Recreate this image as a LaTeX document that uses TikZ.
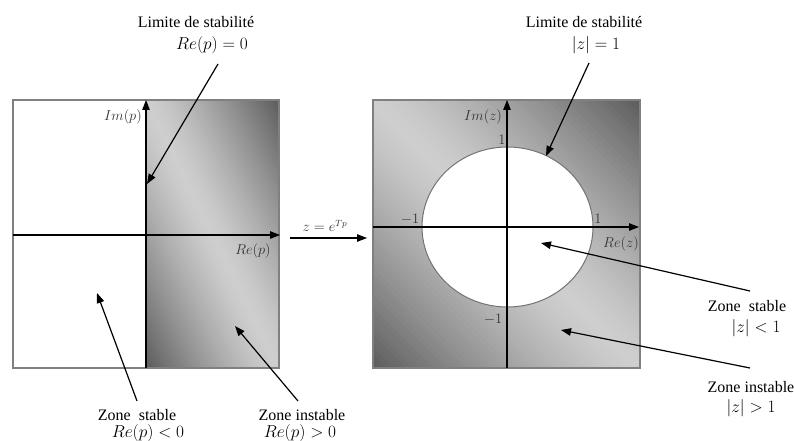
\documentclass[tikz,border=0pt]{standalone}
\usepackage{fontspec}
\setmainfont{Liberation Serif}
\usetikzlibrary{arrows.meta}
\newcommand\gradpanel[4]{% centre x, centre y, half width, half height
  \begin{scope}
  \clip ({#1-#3},{#2-#4}) rectangle ({#1+#3},{#2+#4});
  \foreach \i in {0,...,79}{
    \pgfmathsetmacro\sa{-2+\i*0.05}
    \pgfmathsetmacro\sb{\sa+0.062}
    \pgfmathsetmacro\ff{abs(\sa+0.025)/2}
    \pgfmathsetmacro\gv{0.81-0.45*\ff^1.3}
    \definecolor{bandc}{gray}{\gv}
    \fill[bandc] ({#1+#3*(\sa-1.5)},{#2-1.5*#4}) -- ({#1+#3*(\sa+1.5)},{#2+1.5*#4})
      -- ({#1+#3*(\sb+1.5)},{#2+1.5*#4}) -- ({#1+#3*(\sb-1.5)},{#2-1.5*#4}) -- cycle;
  }
  \end{scope}}
\begin{document}
\begin{tikzpicture}[x=1pt,y=-1pt,
  lbl/.style={font=\fontsize{16}{19}\selectfont, inner sep=0pt, align=center},
  axl/.style={font=\fontsize{13.5}{16}\selectfont, inner sep=0pt, text=black!80},
  frame/.style={draw=black!50, line width=1.3pt},
  axis/.style={draw=black, line width=1.2pt, -{Triangle[length=10pt,width=7.5pt]}},
  pointer/.style={draw=black, line width=1.2pt, -{Triangle[length=10pt,width=7.5pt]}}
]
\useasboundingbox (0,0) rectangle (794,441);
% ---------- left panel ----------
\gradpanel{212.5}{234}{66.5}{134}
\draw[frame] (13,100) rectangle (279,368);
\coordinate (lytop) at (146,100);
\coordinate (lybot) at (146,368);
\coordinate (lxl) at (13,235);
\coordinate (lxr) at (280,235);
\draw[axis] (lybot) -- (lytop);
\draw[axis] (lxl) -- (lxr);
\node[axl, anchor=east] (imp) at (142,117) {$Im(p)$};
\node[axl] (rep) at (253,251) {$Re(p)$};
% ---------- right panel ----------
\gradpanel{506.5}{234}{133.5}{134}
\draw[frame] (373,100) rectangle (640,368);
\draw[draw=black!55, line width=1pt, fill=white] (507.5,227) ellipse [x radius=85.5, y radius=80];
\coordinate (rytop) at (507,100);
\coordinate (rybot) at (507,368);
\coordinate (rxl) at (373,227);
\coordinate (rxr) at (639,227);
\draw[axis] (rybot) -- (rytop);
\draw[axis] (rxl) -- (rxr);
\node[axl] (imz) at (483,117) {$Im(z)$};
\node[axl] (one) at (502,140) {$1$};
\node[axl] (mone) at (410,219) {$-1$};
\node[axl] (onex) at (598,219) {$1$};
\node[axl] (monev) at (493,319) {$-1$};
\node[axl] (rez) at (621,244) {$Re(z)$};
% ---------- transform arrow ----------
\coordinate (ta) at (290,238);
\coordinate (tb) at (367,238);
\draw[pointer] (ta) -- (tb);
\node[axl] (tf) at (325,226) {$z = e^{Tp}$};
% ---------- labels ----------
\node[lbl] (lim1) at (196,22) {Limite de stabilité};
\node[lbl] (lim1m) at (212,45) {$Re(p) = 0$};
\coordinate (lim1s) at (218,64);
\coordinate (lim1e) at (147,184);
\draw[pointer] (lim1s) -- (lim1e);

\node[lbl] (st1) at (137,415) {Zone\ \ stable};
\node[lbl] (st1m) at (148,433) {$Re(p) < 0$};
\coordinate (st1s) at (137,401);
\coordinate (st1e) at (97,293);
\draw[pointer] (st1s) -- (st1e);

\node[lbl] (in1) at (302,415) {Zone instable};
\node[lbl] (in1m) at (300,433) {$Re(p) > 0$};
\coordinate (in1s) at (298,401);
\coordinate (in1e) at (235,326);
\draw[pointer] (in1s) -- (in1e);

\node[lbl] (lim2) at (584,22) {Limite de stabilité};
\node[lbl] (lim2m) at (596,45) {$|z| = 1$};
\coordinate (lim2s) at (589,63);
\coordinate (lim2e) at (546,156);
\draw[pointer] (lim2s) -- (lim2e);

\node[lbl] (st2) at (747,306) {Zone\ \ stable};
\node[lbl] (st2m) at (756,328) {$|z| < 1$};
\coordinate (st2s) at (750,291);
\coordinate (st2e) at (541,243);
\draw[pointer] (st2s) -- (st2e);

\node[lbl] (in2) at (751,387) {Zone instable};
\node[lbl] (in2m) at (751,408) {$|z| > 1$};
\coordinate (in2s) at (750,368);
\coordinate (in2e) at (561,330);
\draw[pointer] (in2s) -- (in2e);
\end{tikzpicture}
\end{document}
